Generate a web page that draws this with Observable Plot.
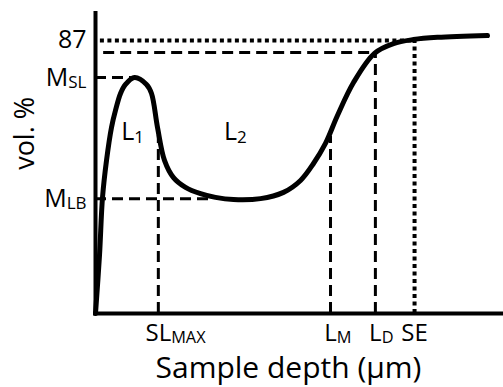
<!DOCTYPE html>
<html><head><meta charset="utf-8">
<script src="https://cdn.jsdelivr.net/npm/d3@7"></script>
<script src="https://cdn.jsdelivr.net/npm/@observablehq/plot@0.6"></script>
<style>body{margin:0;background:#fff}</style>
</head><body><div id="chart"></div>
<script>
// Curve (sample depth, arbitrary units 0-100; vol. %)
const depth = [0, 0.98, 1.72, 2.70, 3.92, 4.90, 6.13, 7.35, 9.56, 12.5, 13.73, 15.20, 16.91, 19.12, 22.06, 25.74, 29.41, 33.82, 40.44, 46.08, 50.25, 53.43, 56.37, 59.31, 63.24, 68.38, 73.04, 77.94, 83.82, 96.08];
const vol   = [0, 18.5, 37.0, 48.8, 59.3, 64.7, 70.1, 73.0, 75.2, 73.0, 70.1, 59.3, 48.8, 43.3, 40.2, 38.2, 37.0, 36.3, 36.6, 38.6, 42.4, 47.8, 54.2, 63.1, 73.6, 82.9, 86.0, 87.3, 88.0, 88.6];

// Tick labels ("_" marks a subscript)
const yTickValues = [87, 75.2, 36.6];
const yTickLabels = ["87", "M_SL", "M_LB"];
const xTickValues = [15.4, 57.6, 68.6, 78.2];
const xTickLabels = ["SL_MAX", "L_M", "L_D", "SE"];

// Region labels
const regionLabels = ["L_1", "L_2"];
const regionX = [9.1, 34.3];
const regionY = [57.7, 57.7];

// Axis titles
const yTitle = "vol. %";
const yTitleAt = 57.4;
const xTitle = "Sample depth (µm)";

// Guide lines (dotted: 87 % level and SE)
const dottedHY = [87], dottedHX1 = [1.2], dottedHX2 = [78.2];
const dottedVX = [78.2], dottedVY2 = [87];
const dashedHY = [83.2, 75.2, 36.6], dashedHX1 = [2, 0, 0], dashedHX2 = [68.6, 8.8, 27.8];
const dashedVX = [15.4, 57.6, 68.6], dashedVY2 = [56.7, 56.5, 83.2];

const yMax = 95.6, xMax = 100;
const curveData = depth.map((x, i) => ({x, y: vol[i]}));
const yTicks = yTickValues.map((v, i) => ({v, label: yTickLabels[i]}));
const xTicks = xTickValues.map((v, i) => ({v, label: xTickLabels[i]}));
const regions = regionLabels.map((label, i) => ({label, x: regionX[i], y: regionY[i]}));
const zipH = (Y, X1, X2) => Y.map((y, i) => ({y, x1: X1[i], x2: X2[i]}));
const zipV = (X, Y2) => X.map((x, i) => ({x, y2: Y2[i]}));

const FONT = '"Open Sans", sans-serif';
const plot = Plot.plot({
  width: 503, height: 387,
  marginLeft: 95, marginRight: 0, marginTop: 13, marginBottom: 74,
  x: {domain: [0, xMax], axis: null},
  y: {domain: [0, yMax], axis: null},
  style: {fontFamily: FONT, background: "#fff", color: "#000", overflow: "visible"},
  marks: [
    Plot.ruleY(zipH(dashedHY, dashedHX1, dashedHX2), {y: "y", x1: "x1", x2: "x2", stroke: "#000", strokeWidth: 3, strokeDasharray: "11,6"}),
    Plot.ruleX(zipV(dashedVX, dashedVY2), {x: "x", y1: 0, y2: "y2", stroke: "#000", strokeWidth: 3, strokeDasharray: "11,6"}),
    Plot.ruleY(zipH(dottedHY, dottedHX1, dottedHX2), {y: "y", x1: "x1", x2: "x2", stroke: "#000", strokeWidth: 4, strokeDasharray: "4,3.5"}),
    Plot.ruleX(zipV(dottedVX, dottedVY2), {x: "x", y1: 0, y2: "y2", stroke: "#000", strokeWidth: 4, strokeDasharray: "4,3.5"}),
    Plot.line(curveData, {x: "x", y: "y", curve: "catmull-rom", stroke: "#000", strokeWidth: 5, strokeLinejoin: "round", strokeLinecap: "round"}),
    Plot.ruleX([0], {y1: 0, y2: yMax, stroke: "#000", strokeWidth: 4, strokeLinecap: "square"}),
    Plot.ruleY([0], {x1: 0, x2: xMax, stroke: "#000", strokeWidth: 4, strokeLinecap: "square"}),
    Plot.text(yTicks, {x: 0, y: "v", text: "label", textAnchor: "end", dx: -9, fontSize: 25, fill: "#000"}),
    Plot.text(xTicks, {x: "v", y: 0, text: "label", lineAnchor: "top", dy: 10, fontSize: 24, fill: "#000"}),
    Plot.text(regions, {x: "x", y: "y", text: "label", fontSize: 25, fill: "#000"}),
    Plot.text([yTitle], {frameAnchor: "left", y: () => yTitleAt, textAnchor: "middle", dx: -70, rotate: -90, fontSize: 27, fill: "#000"}),
    Plot.text([xTitle], {frameAnchor: "bottom", lineAnchor: "top", dx: -11, dy: 43, fontSize: 30, fill: "#000"})
  ]
});
document.getElementById("chart").append(plot);

// Subscripts
const NS = "http://www.w3.org/2000/svg";
plot.querySelectorAll("text").forEach(t => {
  const s = t.textContent;
  if (!s.includes("_")) return;
  const [main, sub] = s.split("_");
  t.textContent = "";
  const a = document.createElementNS(NS, "tspan");
  a.textContent = main;
  const b = document.createElementNS(NS, "tspan");
  b.textContent = sub;
  b.setAttribute("font-size", "0.68em");
  b.setAttribute("dy", "2.5");
  t.append(a, b);
  if (xTickLabels.includes(s)) {
    const w = a.getComputedTextLength();
    t.setAttribute("text-anchor", "start");
    const x0 = +t.getAttribute("x") || 0;
    t.setAttribute("x", x0 - w / 2);
  }
});
</script></body></html>
